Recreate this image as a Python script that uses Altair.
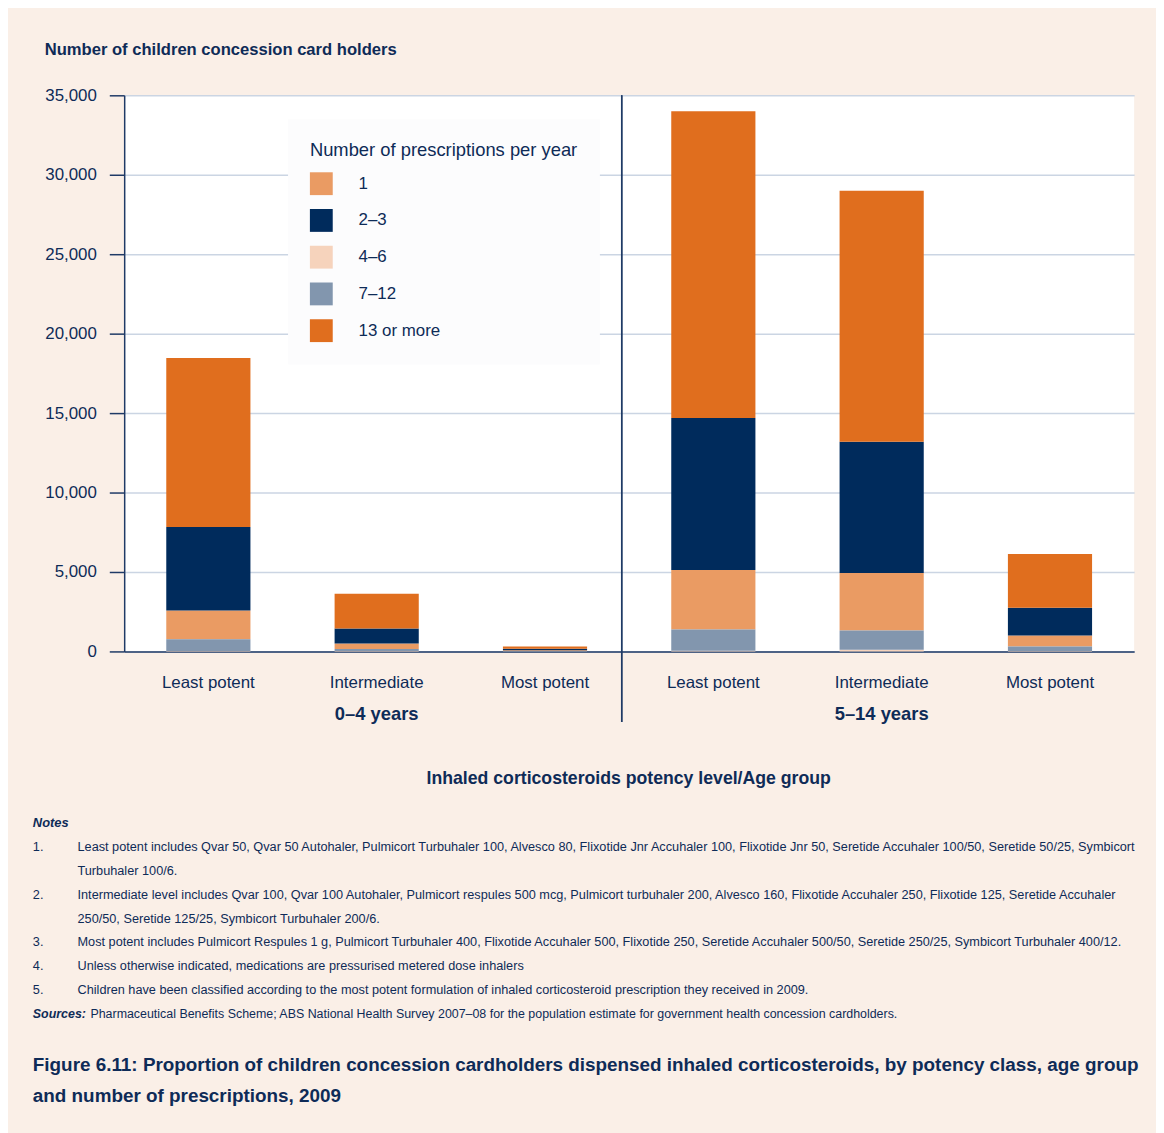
import altair as alt
import pandas as pd

FONT = "Liberation Sans"
NAVY_TXT = "#0E2B57"

age_groups = ["0–4 years", "0–4 years", "0–4 years", "5–14 years", "5–14 years", "5–14 years"]
potency = ["Least potent", "Intermediate", "Most potent", "Least potent", "Intermediate", "Most potent"]

series = ["1", "2–3", "4–6", "7–12", "13 or more"]
colors = ["#EA9B63", "#002B5C", "#F6D3BC", "#8296AE", "#E06E1E"]
stack_order = {"4–6": 0, "7–12": 1, "1": 2, "2–3": 3, "13 or more": 4}

v_1 = [1810, 350, 40, 3750, 3630, 690]
v_2_3 = [5250, 940, 100, 9565, 8250, 1750]
v_4_6 = [20, 20, 5, 40, 100, 20]
v_7_12 = [750, 130, 30, 1335, 1210, 290]
v_13 = [10630, 2185, 135, 19310, 15810, 3375]

y_ticks = [0, 5000, 10000, 15000, 20000, 25000, 30000, 35000]

notes_num = ["1.", "", "2.", "", "3.", "4.", "5."]
notes_txt = [
    "Least potent includes Qvar 50, Qvar 50 Autohaler, Pulmicort Turbuhaler 100, Alvesco 80, Flixotide Jnr Accuhaler 100, Flixotide Jnr 50, Seretide Accuhaler 100/50, Seretide 50/25, Symbicort",
    "Turbuhaler 100/6.",
    "Intermediate level includes Qvar 100, Qvar 100 Autohaler, Pulmicort respules 500 mcg, Pulmicort turbuhaler 200, Alvesco 160, Flixotide Accuhaler 250, Flixotide 125, Seretide Accuhaler",
    "250/50, Seretide 125/25, Symbicort Turbuhaler 200/6.",
    "Most potent includes Pulmicort Respules 1 g, Pulmicort Turbuhaler 400, Flixotide Accuhaler 500, Flixotide 250, Seretide Accuhaler 500/50, Seretide 250/25, Symbicort Turbuhaler 400/12.",
    "Unless otherwise indicated, medications are pressurised metered dose inhalers",
    "Children have been classified according to the most potent formulation of inhaled corticosteroid prescription they received in 2009.",
]
sources_txt = "Pharmaceutical Benefits Scheme; ABS National Health Survey 2007–08 for the population estimate for government health concession cardholders."
title_lines = [
    "Figure 6.11: Proportion of children concession cardholders dispensed inhaled corticosteroids, by potency class, age group",
    "and number of prescriptions, 2009",
]

cats = [f"{a}|{p}" for a, p in zip(age_groups, potency)]
vals = {"1": v_1, "2–3": v_2_3, "4–6": v_4_6, "7–12": v_7_12, "13 or more": v_13}
rows = []
for s in series:
    for c, v in zip(cats, vals[s]):
        rows.append({"cat": c, "series": s, "value": v, "order": stack_order[s]})
df = pd.DataFrame(rows)

xscale = alt.Scale(domain=cats, paddingInner=0.5, paddingOuter=0.25)

bars = alt.Chart(df).mark_bar().encode(
    x=alt.X("cat:N", scale=xscale, sort=cats,
            axis=alt.Axis(title=None, labelExpr="split(datum.label, '|')[1]", labelAngle=0,
                          ticks=False, labelFontSize=17, labelColor=NAVY_TXT, labelFont=FONT,
                          labelPadding=23, domainColor="#1F3A66", domainWidth=1.5, grid=False)),
    y=alt.Y("value:Q", stack="zero", scale=alt.Scale(domain=[0, 35000], nice=False),
            axis=alt.Axis(title=None, values=y_ticks, format=",.0f", labelFontSize=17,
                          labelColor=NAVY_TXT, labelFont=FONT, labelPadding=13,
                          tickSize=15, tickWidth=1.5, tickColor="#1F3A66",
                          domainColor="#1F3A66", domainWidth=1.5,
                          gridColor="#CBD5E3", gridWidth=1.5)),
    color=alt.Color("series:N", scale=alt.Scale(domain=series, range=colors),
                    legend=alt.Legend(title="Number of prescriptions per year", orient="none",
                                      legendX=165, legendY=24, fillColor="#FCFCFD",
                                      padding=22, titleFontSize=18.5, titleFont=FONT,
                                      titleFontWeight="normal", titleColor=NAVY_TXT,
                                      titleLimit=500, labelLimit=300,
                                      titlePadding=13, labelFontSize=17, labelFont=FONT,
                                      labelColor=NAVY_TXT, symbolType="square",
                                      symbolSize=529, symbolStrokeWidth=0, labelOffset=26,
                                      rowPadding=14, symbolOpacity=1)),
    order=alt.Order("order:Q"),
)

grp = pd.DataFrame({"cat": [cats[1], cats[4]], "label": [age_groups[1], age_groups[4]]})
group_labels = alt.Chart(grp).mark_text(font=FONT, fontSize=18.5, fontWeight="bold",
                                        color=NAVY_TXT, baseline="middle").encode(
    x=alt.X("cat:N", scale=xscale, sort=cats), y=alt.value(623), text="label:N")

sep = alt.Chart(grp).mark_rule(color="#1F3A66", strokeWidth=1.5).encode(
    x=alt.value(501), y=alt.value(0), y2=alt.value(631))

one = pd.DataFrame({"k": [0]})

def txt(text, x, y, size, weight="normal", align="left", style="normal"):
    return alt.Chart(one).mark_text(font=FONT, fontSize=size, fontWeight=weight, color=NAVY_TXT,
                                    align=align, baseline="middle", fontStyle=style).encode(
        x=alt.value(x), y=alt.value(y), text=alt.value(text))

layers = [bars, sep, group_labels]
layers.append(txt("Number of children concession card holders", -80, -46, 16.7, "bold"))
layers.append(txt("Inhaled corticosteroids potency level/Age group", 508, 688, 17.8, "bold", "center"))
layers.append(txt("Notes", -92, 733, 13, "bold", style="italic"))
for i, (n, t) in enumerate(zip(notes_num, notes_txt)):
    yy = 757 + 24 * i
    if n:
        layers.append(txt(n, -92, yy, 12.8))
    layers.append(txt(t, -47, yy, 12.8))
layers.append(txt("Sources:", -92, 925, 12.5, "bold", style="italic"))
layers.append(txt(sources_txt, -34, 925, 12.5))
for i, line in enumerate(title_lines):
    layers.append(txt(line, -92, 976 + 32 * i, 19, "bold"))

chart = alt.layer(*layers).properties(
    width=1017, height=560,
    autosize=alt.AutoSizeParams(type="none"),
    padding={"left": 117, "top": 84, "right": 22, "bottom": 481},
    background="#FAEFE7",
).configure_view(fill="white", stroke=None)

chart.save("out.html", embed_options={"renderer": "svg", "actions": False})
